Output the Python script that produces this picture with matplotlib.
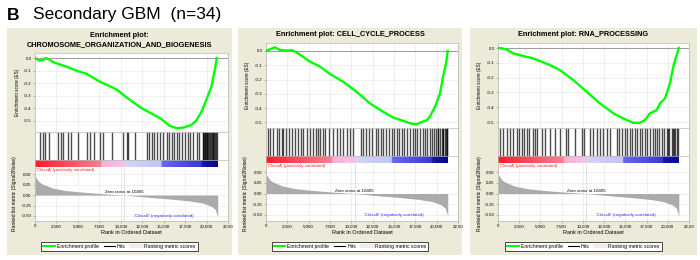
import matplotlib.pyplot as plt
import numpy as np
from matplotlib.colors import LinearSegmentedColormap
from matplotlib.lines import Line2D

plt.rcParams['font.family'] = ['Liberation Sans', 'DejaVu Sans']

W, H = 700, 260

titles = ['Enrichment plot:\nCHROMOSOME_ORGANIZATION_AND_BIOGENESIS',
          'Enrichment plot: CELL_CYCLE_PROCESS',
          'Enrichment plot: RNA_PROCESSING']

n_genes = 21300
zero_cross = 10405

# running enrichment score (rank, ES)
es1_rank = [0, 500, 1000, 1200, 1600, 2200, 3700, 5000, 6000, 7600, 9500, 10800, 12200, 13500,
            14600, 15700, 16500, 17300, 18200, 18800, 19400, 20000, 20600, 20800, 21000, 21200]
es1_val = [0, -0.02, -0.015, 0.0, -0.01, -0.035, -0.07, -0.105, -0.125, -0.19, -0.25, -0.32, -0.39, -0.44,
           -0.48, -0.54, -0.56, -0.555, -0.535, -0.50, -0.43, -0.33, -0.22, -0.15, -0.08, 0.0]

es2_rank = [0, 470, 1050, 1640, 2600, 3000, 3600, 5160, 6330, 7500, 9060, 10630, 12190, 13750,
            14920, 16090, 17070, 17660, 18250, 18830, 19220, 19810, 20390, 20780, 21100, 21300]
es2_val = [0, 0.012, 0.026, 0.007, 0.002, 0.007, -0.01, -0.075, -0.11, -0.162, -0.216, -0.286, -0.368, -0.427,
           -0.467, -0.49, -0.51, -0.514, -0.498, -0.486, -0.458, -0.392, -0.298, -0.17, -0.087, 0.0]

es3_rank = [0, 440, 1020, 1800, 2980, 4160, 4950, 6120, 7300, 8870, 10440, 12020, 13590, 14760,
            15940, 16730, 17320, 17900, 18690, 19080, 19670, 20260, 20650, 21050, 21300]
es3_val = [0, -0.002, -0.01, -0.036, -0.054, -0.07, -0.088, -0.115, -0.149, -0.216, -0.295, -0.374, -0.441, -0.475,
           -0.505, -0.505, -0.486, -0.441, -0.419, -0.374, -0.34, -0.239, -0.126, -0.047, 0.0]

# hit positions in the ranked list
hits1 = [580, 900, 1170, 1670, 2720, 3030, 3300, 3810, 4200, 5050, 6100, 6410, 6910, 7580, 7960, 8940,
         10300, 10690, 10880, 11660, 13020, 13290, 13610, 13910, 14190, 14580, 14960, 15360, 15620, 15940,
         16210, 16520, 16830, 17100, 17490, 17800, 18070, 18460, 18850, 19160, 19550, 19620, 19700, 19780,
         19860, 19940, 20020, 20110, 20210, 20300, 20400, 20500, 20600, 20700, 20790, 20890, 20990, 21090, 21190]
hits2 = [200, 470, 860, 1250, 1560, 1840, 2030, 2340, 2730, 3010, 3400, 3790, 4060, 4300, 4770, 5160,
         5470, 5860, 6060, 6330, 6640, 6920, 7420, 7810, 8360, 8670, 9060, 9530, 9850, 10240, 11100, 11410,
         11720, 12110, 12380, 12890, 13170, 13440, 13750, 14060, 14460, 14730, 15040, 15310, 15630, 15940,
         16190, 16560, 16880, 17190, 17460, 17740, 18050, 18360, 18640, 18910, 19220, 19420, 19690, 19920,
         20100, 20200, 20390, 20590, 20700, 20780, 20980, 21080, 21170, 21250]
hits3 = [240, 630, 1020, 1410, 1810, 2200, 2510, 2790, 3060, 3380, 3690, 4080, 4360, 4630, 5140, 5540,
         6130, 6720, 7300, 8010, 8290, 9070, 9860, 10130, 10840, 11230, 11620, 12020, 12410, 12800, 13190,
         13980, 14290, 14570, 14960, 15230, 15510, 15820, 16100, 16370, 16690, 17000, 17270, 17550, 17900,
         18220, 18490, 18690, 19000, 19280, 19550, 19870, 20000, 20180, 20460, 20600, 20730, 20900, 21050, 21250]

# ranked list metric, same dataset for the three gene sets
metric_rank = [0, 100, 400, 800, 2000, 3500, 5500, 8000, 10405, 13000, 15500, 18000, 19500, 20500, 21000, 21300]
metric_val = [0.52, 0.42, 0.33, 0.27, 0.17, 0.11, 0.07, 0.03, 0.0, -0.05, -0.09, -0.14, -0.19, -0.26, -0.34, -0.52]

x_ticks = [0, 2500, 5000, 7500, 10000, 12500, 15000, 17500, 20000, 22500]
x_labels = ['0', '2,500', '5,000', '7,500', '10,000', '12,500', '15,000', '17,500', '20,000', '22,50']
es_ticks = [0.0, -0.1, -0.2, -0.3, -0.4, -0.5]
es_labels = ['0.0', '-0.1', '-0.2', '-0.3', '-0.4', '-0.5']
metric_ticks = [0.5, 0.25, 0.0, -0.25, -0.5]
metric_labels = ['0.50', '0.25', '0.00', '-0.25', '-0.50']

es_ranks = [es1_rank, es2_rank, es3_rank]
es_vals = [es1_val, es2_val, es3_val]
hits_all = [hits1, hits2, hits3]

# layout in pixels
panel_box = [(7, 28, 232, 255), (238, 28, 462, 255), (470, 28, 697, 255)]
plot_x = [(35, 228), (266, 458), (498, 689)]
es_top = [53, 43, 43]
es_bottom = [132, 128, 128]
es_lim = [(-0.59, 0.04), (-0.54, 0.056), (-0.54, 0.034)]
metric_lim = [(-0.62, 0.67), (-0.64, 0.71), (-0.64, 0.71)]
title_y = [40, 35, 35]
es_lab_x = [18, 248, 480]
met_lab_x = [15, 246, 479]

bar_cmap = LinearSegmentedColormap.from_list('rank_bar', [
    (0.0, '#ff1a2a'), (0.36, '#f88090'), (0.365, '#f8b0d8'), (0.49, '#f8c4e4'),
    (0.495, '#d4d4fa'), (0.69, '#c4c4f8'), (0.695, '#6868f0'), (0.91, '#3838d8'),
    (0.915, '#1818a8'), (1.0, '#06068c')])

grid_c = '#e4e4e4'
spine_c = '#b8b8b8'
tick_fs = 3.2


def rect(x0, y0, x1, y1):
    return [x0 / W, 1 - y1 / H, (x1 - x0) / W, (y1 - y0) / H]


def style(ax):
    for s in ax.spines.values():
        s.set_color(spine_c)
        s.set_linewidth(0.5)
    ax.tick_params(length=1.5, width=0.4, color='#888888', labelsize=tick_fs, pad=1)


fig = plt.figure(figsize=(W / 100, H / 100), dpi=100)

fig.text(7 / W, 1 - 19.5 / H, 'B', fontsize=12.5, fontweight='bold', va='baseline')
fig.text(33 / W, 1 - 19.5 / H, 'Secondary GBM  (n=34)', fontsize=12.5, va='baseline')

for i in range(3):
    px0, py0, px1, py1 = panel_box[i]
    fig.patches.append(plt.Rectangle((px0 / W, 1 - py1 / H), (px1 - px0) / W, (py1 - py0) / H,
                                     transform=fig.transFigure, facecolor='#ecead9', edgecolor='none',
                                     zorder=-10))
    fig.text((px0 + px1) / 2 / W, 1 - title_y[i] / H, titles[i], fontsize=5.3, fontweight='bold',
             ha='center', va='center', linespacing=1.3)

    x0, x1 = plot_x[i]
    y_es0, y_es1 = es_top[i], es_bottom[i]
    y_hit1 = y_es1 + 28
    y_bar1 = y_hit1 + 7

    # enrichment score
    ax = fig.add_axes(rect(x0, y_es0, x1, y_es1))
    ax.plot(es_ranks[i], es_vals[i], color='#00ff00', lw=1.7, zorder=3)
    ax.axhline(0, color='#909090', lw=0.6, zorder=2)
    ax.set_xlim(0, 22500)
    ax.set_ylim(*es_lim[i])
    ax.set_xticks(x_ticks)
    ax.set_xticklabels([])
    ax.set_yticks(es_ticks)
    ax.set_yticklabels(es_labels)
    ax.grid(True, color=grid_c, lw=0.4)
    ax.set_axisbelow(True)
    style(ax)
    ax.tick_params(axis='x', length=0)
    fig.text(es_lab_x[i] / W, 1 - (y_es0 + y_es1) / 2 / H, 'Enrichment score (ES)', fontsize=3.3,
             rotation=90, ha='center', va='center')

    # hits
    axh = fig.add_axes(rect(x0, y_es1, x1, y_hit1))
    axh.vlines(hits_all[i], 0, 1, color='black', lw=1.0, alpha=0.7)
    axh.set_xlim(0, 22500)
    axh.set_ylim(0, 1)
    axh.set_xticks(x_ticks)
    axh.set_xticklabels([])
    axh.set_yticks([])
    axh.grid(True, axis='x', color=grid_c, lw=0.4)
    axh.set_axisbelow(True)
    style(axh)
    axh.tick_params(length=0)

    # colour bar of the ranked list
    axb = fig.add_axes(rect(x0, y_hit1, x1, y_bar1))
    axb.imshow(np.linspace(0, 1, 256)[None, :], cmap=bar_cmap, aspect='auto',
               extent=(0, n_genes, 0, 1))
    axb.set_xlim(0, 22500)
    axb.set_ylim(0, 1)
    axb.set_xticks([])
    axb.set_yticks([])
    style(axb)

    # ranked list metric
    axm = fig.add_axes(rect(x0, y_bar1, x1, 221))
    axm.fill_between(metric_rank, metric_val, 0, color='#ababab', lw=0)
    axm.axvline(zero_cross, color='#b0b0b0', lw=0.5, ls=(0, (1.5, 1.5)))
    axm.set_xlim(0, 22500)
    axm.set_ylim(*metric_lim[i])
    axm.set_xticks(x_ticks)
    axm.set_xticklabels(x_labels)
    axm.set_yticks(metric_ticks)
    axm.set_yticklabels(metric_labels)
    axm.grid(True, color=grid_c, lw=0.4)
    axm.set_axisbelow(True)
    style(axm)
    axm.spines['top'].set_visible(False)
    axm.text(0.005, 0.985, "'ClassA' (positively correlated)", transform=axm.transAxes, fontsize=3.2,
             color='#ff2020', va='top', ha='left')
    axm.text(zero_cross, 0.015, 'Zero cross at 10405', fontsize=3.2, ha='center', va='bottom')
    axm.text(15000, -0.5, "'ClassB' (negatively correlated)", fontsize=3.2, color='#3030ff',
             ha='center', va='center')
    fig.text((x0 + x1) / 2 / W, 1 - 233 / H, 'Rank in Ordered Dataset', fontsize=4,
             ha='center', va='center')
    fig.text(met_lab_x[i] / W, 1 - 194 / H, 'Ranked list metric (Signal2Noise)', fontsize=3.6,
             rotation=90, ha='center', va='center')

    handles = [Line2D([], [], color='#00ff00', lw=1.5),
               Line2D([], [], color='black', lw=0.8),
               Line2D([], [], color='#ececec', lw=3)]
    leg = fig.legend(handles, ['Enrichment profile', 'Hits', 'Ranking metric scores'],
                     loc='center', bbox_to_anchor=((px0 + px1) / 2 / W, 1 - 246.5 / H), ncol=3,
                     fontsize=3.7, frameon=True, fancybox=False, edgecolor='black', framealpha=1,
                     borderpad=0.35, handlelength=2.2, handletextpad=0.4, columnspacing=1.0)
    leg.get_frame().set_linewidth(0.5)

fig.savefig('out.png', dpi=100)
